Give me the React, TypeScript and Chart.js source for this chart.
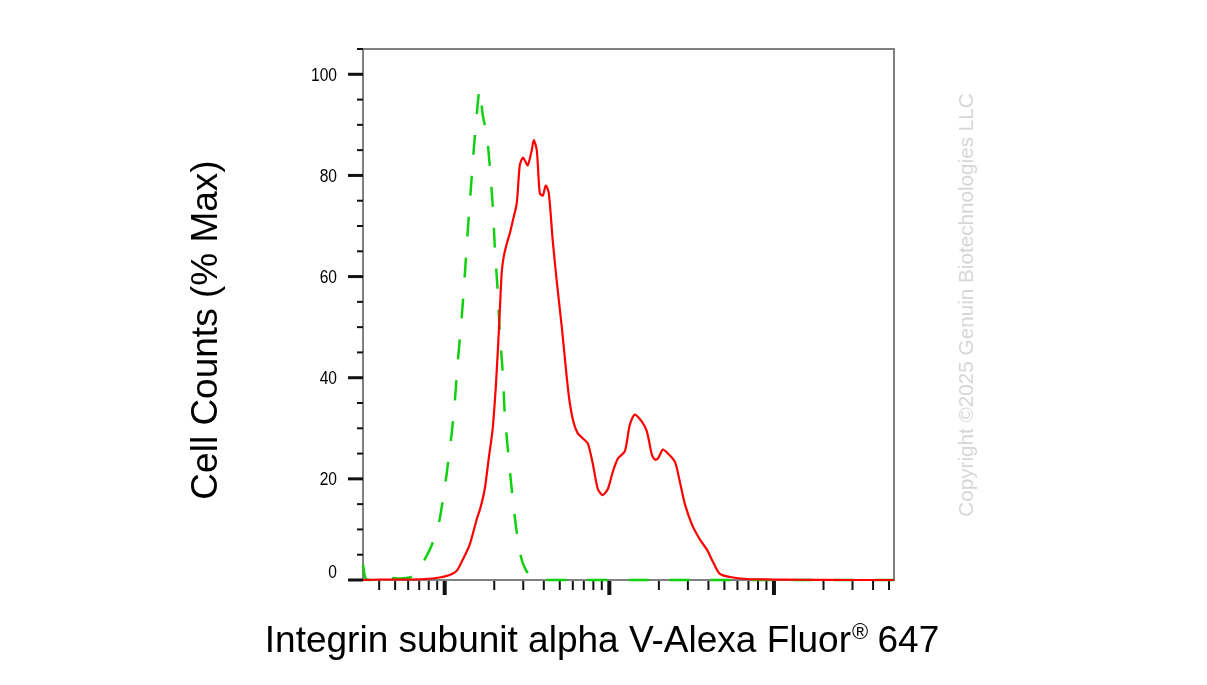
import React, { useEffect, useRef } from "react";
import { Chart, registerables } from "chart.js";

Chart.register(...registerables);

// Fluorescence intensity (x, log scale) and % of max (y)
const redX = [31.9, 40.3, 53.3, 75.6, 93.2, 107.3, 118.3, 128.6, 141.9, 156.5, 165.5, 175.1, 185.1, 195.8, 204.2, 210.0, 216.0, 222.2, 228.5, 238.2, 248.5, 259.1, 274.0, 285.7, 298.0, 306.5, 319.6, 338.0, 347.5, 362.5, 378.0, 394.2, 411.2, 428.8, 453.5, 479.6, 514.4, 551.6, 575.3, 608.4, 643.5, 690.1, 740.1, 793.6, 851.3, 913.0, 979.3, 1050, 1127, 1243, 1332, 1429, 1576, 1690, 1813, 1891, 1972, 2115, 2268, 2501, 2683, 2878, 3173, 3550, 3915, 4259, 4696, 5401, 6856, 9456, 14390, 28970, 53600];
const redY = [0, 0.1, 0.1, 0.2, 0.5, 1, 1.8, 4, 7, 12, 14.5, 18, 24, 30, 38, 45, 53, 61, 64, 66.5, 68.5, 71, 74.5, 82, 83.5, 83, 82, 85, 87, 85, 76.5, 76, 78, 76.5, 67, 59, 50, 40, 35, 31, 29, 28, 27, 23, 18, 16.8, 18, 21.4, 24, 25.5, 30.7, 32.7, 31.3, 29.4, 24.8, 23.8, 24, 25.8, 25, 23.4, 19.4, 15, 11, 8, 6, 3.6, 1.2, 0.6, 0.2, 0.1, 0.05, 0, 0];

const greenX = [31.9, 33.1, 35.0, 40.3, 46.3, 53.3, 61.3, 68.5, 72.5, 81.1, 88.2, 93.2, 98.6, 102.8, 107.3, 110.3, 115.0, 120.0, 126.9, 132.3, 138.0, 143.9, 150.1, 156.5, 163.2, 170.2, 180.0, 187.7, 195.8, 201.4, 210.0, 216.0, 225.3, 231.6, 244.9, 259.1, 277.8, 293.8, 310.8, 328.7, 378.0, 53600];
const greenY = [3, 0.3, 0, 0, 0.4, 0.3, 0.5, 1.5, 3, 6, 9, 12, 17, 21, 26, 29, 35, 43, 52, 60, 69, 77, 85, 92, 97, 92, 88, 82, 74, 66, 57, 49, 41, 33, 24, 16, 8, 4, 2, 1, 0, 0];

const xDecades = [10, 100, 1000, 10000];
const yMajorStep = 20;
const yTitle = "Cell Counts (% Max)";
const xTitleMain = "Integrin subunit alpha V-Alexa Fluor";
const xTitleMark = "®";
const xTitleEnd = " 647";
const watermark = "Copyright ©2025 Genuin Biotechnologies LLC";

const FONT = '"Liberation Sans", Arial, Helvetica, sans-serif';

const decorPlugin = {
  id: "decor",
  beforeDatasetsDraw(chart: any) {
    const { ctx, chartArea: a } = chart;
    ctx.save();
    ctx.strokeStyle = "#808080";
    ctx.lineWidth = 2;
    ctx.strokeRect(a.left, a.top, a.right - a.left, a.bottom - a.top);

    ctx.fillStyle = "#111";
    const ys = chart.scales.y;
    ys.ticks.forEach((t: any) => {
      const p = ys.getPixelForValue(t.value);
      if (t.value % yMajorStep === 0) {
        ctx.fillRect(a.left - 15, p - 1.5, 15, 3);
        // condensed tick label
        ctx.save();
        ctx.fillStyle = "#000";
        ctx.font = `19px ${FONT}`;
        ctx.textAlign = "right";
        ctx.textBaseline = "middle";
        ctx.translate(a.left - 26, t.value === 0 ? p - 7 : p + 1);
        ctx.scale(0.82, 1);
        ctx.fillText(String(t.value), 0, 0);
        ctx.restore();
      } else ctx.fillRect(a.left - 6, p - 1, 6, 2);
    });
    const xs = chart.scales.x;
    xDecades.forEach((d) => {
      for (let m = 1; m <= 9; m++) {
        const v = m * d;
        if (v < xs.min || v > xs.max) continue;
        const p = xs.getPixelForValue(v);
        if (m === 1) ctx.fillRect(p - 2, a.bottom + 1, 4, 14);
        else ctx.fillRect(p - 1, a.bottom + 1, 2, 9);
      }
    });
    ctx.restore();
  },
  afterDraw(chart: any) {
    const { ctx } = chart;
    ctx.save();
    // y title
    ctx.fillStyle = "#000";
    ctx.font = `37px ${FONT}`;
    ctx.textAlign = "center";
    ctx.textBaseline = "alphabetic";
    ctx.save();
    ctx.translate(217, 330);
    ctx.rotate(-Math.PI / 2);
    ctx.fillText(yTitle, 0, 0);
    ctx.restore();

    // x title
    ctx.textAlign = "left";
    ctx.font = `37px ${FONT}`;
    const w1 = ctx.measureText(xTitleMain).width;
    const w3 = ctx.measureText(xTitleEnd).width;
    ctx.font = `22px ${FONT}`;
    const w2 = ctx.measureText(xTitleMark).width;
    const total = w1 + w2 + w3;
    const x0 = 602 - total / 2;
    ctx.font = `37px ${FONT}`;
    ctx.fillText(xTitleMain, x0, 652);
    ctx.font = `22px ${FONT}`;
    ctx.fillText(xTitleMark, x0 + w1 + 1, 639);
    ctx.font = `37px ${FONT}`;
    ctx.fillText(xTitleEnd, x0 + w1 + w2, 652);

    // watermark
    ctx.fillStyle = "#d6d6d6";
    ctx.font = `20.7px ${FONT}`;
    ctx.textAlign = "center";
    ctx.translate(973, 305);
    ctx.rotate(-Math.PI / 2);
    ctx.fillText(watermark, 0, 0);
    ctx.restore();
  },
};

export default function App() {
  const ref = useRef<HTMLCanvasElement | null>(null);
  useEffect(() => {
    if (!ref.current) return;
    const chart = new Chart(ref.current, {
      type: "line",
      data: {
        datasets: [
          {
            label: "Integrin subunit alpha V",
            data: redX.map((x, i) => ({ x, y: redY[i] })),
            borderColor: "#ff0000",
            borderWidth: 2.2,
            pointRadius: 0,
            tension: 0.25,
            fill: false,
            clip: 4,
          },
          {
            label: "Isotype control",
            data: greenX.map((x, i) => ({ x, y: greenY[i] })),
            borderColor: "#10d010",
            borderWidth: 2.5,
            borderDash: [20, 21],
            pointRadius: 0,
            tension: 0.3,
            fill: false,
            clip: 4,
          },
        ],
      },
      options: {
        animation: false,
        responsive: false,
        layout: { padding: { left: 0, top: 49, right: 313, bottom: 0 } },
        plugins: { legend: { display: false }, tooltip: { enabled: false } },
        scales: {
          x: {
            type: "logarithmic",
            min: 31.9,
            max: 53600,
            grid: { display: false, drawTicks: false },
            border: { display: false },
            ticks: { display: false },
            afterFit: (s: any) => {
              s.height = 105;
            },
          },
          y: {
            type: "linear",
            min: 0,
            max: 105,
            grid: { display: false, drawTicks: false },
            border: { display: false },
            ticks: {
              display: false,
              stepSize: 5,
              maxTicksLimit: 40,
              autoSkip: false,
            },
            afterFit: (s: any) => {
              s.width = 363;
            },
          },
        },
      },
      plugins: [decorPlugin],
    } as any);
    return () => chart.destroy();
  }, []);
  return (
    <div style={{ position: "absolute", left: 0, top: 0, width: 1207, height: 685, background: "#fff" }}>
      <canvas ref={ref} width={1207} height={685} style={{ display: "block" }} />
    </div>
  );
}
